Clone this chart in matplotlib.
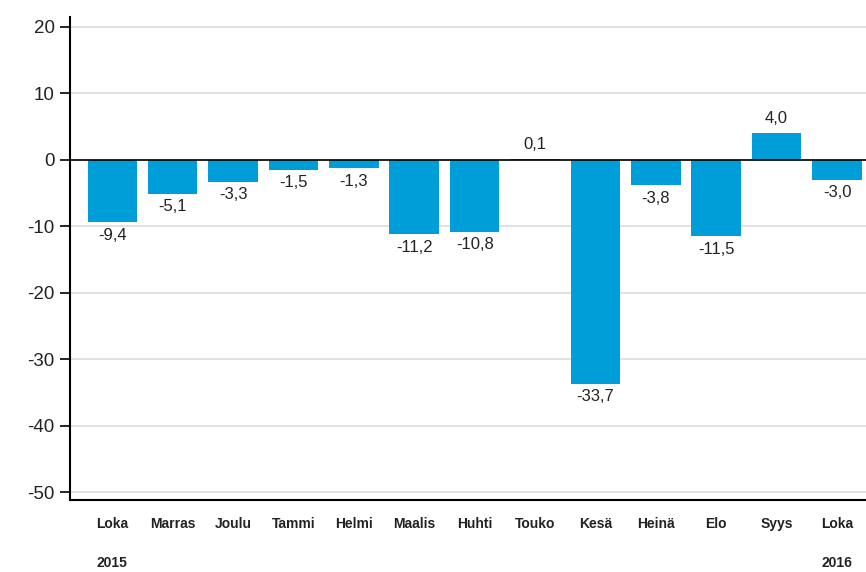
import matplotlib
matplotlib.use("Agg")
import matplotlib.pyplot as plt

months = ["Loka", "Marras", "Joulu", "Tammi", "Helmi", "Maalis", "Huhti",
          "Touko", "Kesä", "Heinä", "Elo", "Syys", "Loka"]
values = [-9.4, -5.1, -3.3, -1.5, -1.3, -11.2, -10.8, 0.1, -33.7, -3.8, -11.5, 4.0, -3.0]
years = {0: "2015", 12: "2016"}
yticks = [20, 10, 0, -10, -20, -30, -40, -50]

plt.rcParams['font.family'] = ['Liberation Sans', 'DejaVu Sans']
fig = plt.figure(figsize=(8.66, 5.72), dpi=100)
ax = fig.add_axes([70/866, 1 - 500/572, (866-70)/866, (500-17)/572])

x = list(range(len(values)))
ax.bar(x, values, width=0.82, color='#009ed9', zorder=3)
ax.set_xlim(-0.7, 12.48)
ax.set_ylim(-51.2, 21.5)
ax.set_yticks(yticks)
ax.set_yticklabels([str(v) for v in yticks], fontsize=13.5, color='#222222')
ax.grid(axis='y', color='#dddddd', linewidth=1.2, zorder=0)
ax.axhline(0, color='black', linewidth=1.2, zorder=4)
for s in ['top', 'right']:
    ax.spines[s].set_visible(False)
ax.spines['left'].set_linewidth(1.5)
ax.spines['bottom'].set_linewidth(1.5)
ax.tick_params(axis='y', length=7, width=1.2, pad=4)
ax.tick_params(axis='x', length=0, pad=12)
ax.set_xticks(x)
ax.set_xticklabels(months, fontsize=10, fontweight='bold', color='#222222')

for xi, v in zip(x, values):
    lab = f"{v:.1f}".replace('.', ',')
    if v >= 0:
        ax.annotate(lab, (xi, v), xytext=(0, 5), textcoords='offset points',
                    ha='center', va='bottom', fontsize=12, color='#222222')
    else:
        ax.annotate(lab, (xi, v), xytext=(0, -4), textcoords='offset points',
                    ha='center', va='top', fontsize=12, color='#222222')

for xi, y in years.items():
    ax.annotate(y, (xi, 0), xycoords=('data', 'axes fraction'), xytext=(0, -63),
                textcoords='offset pixels', ha='center', va='center',
                fontsize=10, fontweight='bold', color='#222222')

fig.savefig('out.png', dpi=100)
